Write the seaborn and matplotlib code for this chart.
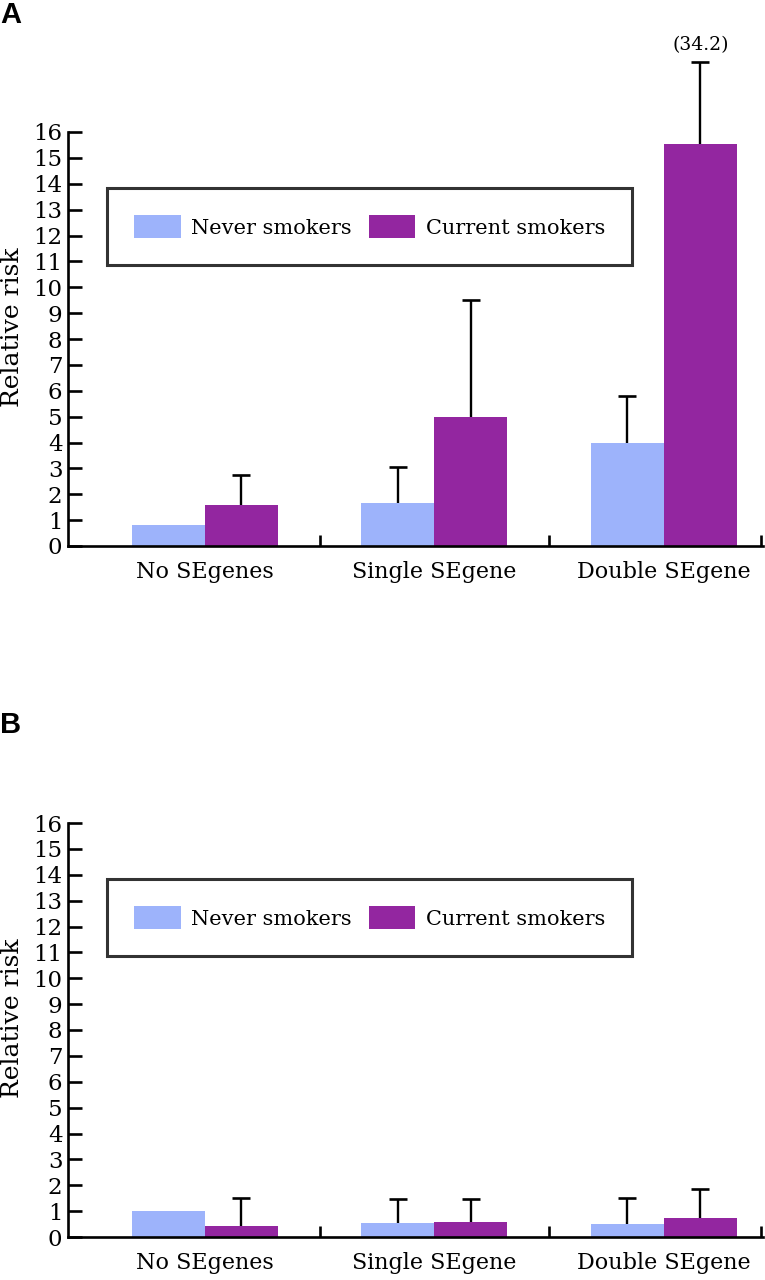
import numpy as np
import pandas as pd
import matplotlib
matplotlib.use("Agg")
import matplotlib.pyplot as plt
import seaborn as sns

groups = ["No SEgenes", "Single SEgene", "Double SEgene"]
smoking = ["Never smokers", "Current smokers"]

# panel A: relative risk and upper confidence limit
a_never = [0.8, 1.65, 4.0]
a_never_up = [np.nan, 3.05, 5.8]
a_current = [1.6, 5.0, 15.55]
a_current_up = [2.75, 9.5, 34.2]

# panel B
b_never = [1.0, 0.55, 0.52]
b_never_up = [np.nan, 1.48, 1.5]
b_current = [0.42, 0.58, 0.72]
b_current_up = [1.52, 1.48, 1.86]

ci_clip = 18.7  # upper limits beyond this are drawn cut and labelled
colors = ["#9db3fb", "#9326a0"]

sns.set_style("white")
plt.rcParams["font.family"] = ["DejaVu Serif"]
plt.rcParams["text.color"] = "black"
plt.rcParams["axes.labelcolor"] = "black"
plt.rcParams["xtick.color"] = "black"
plt.rcParams["ytick.color"] = "black"


def make_df(never, current):
    return pd.DataFrame({
        "group": groups * 2,
        "smoking": [smoking[0]] * 3 + [smoking[1]] * 3,
        "rr": never + current,
    })


def panel(ax, never, never_up, current, current_up, ytop, letter_y, letter):
    df = make_df(never, current)
    sns.barplot(data=df, x="group", y="rr", hue="smoking", order=groups,
                hue_order=smoking, palette=colors, saturation=1, width=0.635,
                errorbar=None, linewidth=0, ax=ax, zorder=2)

    ups = [never_up, current_up]
    vals = [never, current]
    for cont, up, val in zip(ax.containers, ups, vals):
        for bar, u, v in zip(cont, up, val):
            if np.isnan(u):
                continue
            x = bar.get_x() + bar.get_width() / 2
            top = min(u, ci_clip)
            eb = ax.errorbar([x], [v], yerr=[[0], [top - v]], fmt="none",
                             ecolor="black", elinewidth=1.7, capsize=6.5,
                             capthick=1.9, zorder=3, clip_on=False)
            # one-sided bar: hide the lower cap
            eb[1][0].set_visible(False)
            if u > ci_clip:
                ax.text(x, top + 0.3, f"({u})", ha="center", va="bottom",
                        fontsize=13.5, clip_on=False)

    ax.set_xlim(-0.596, 2.432)
    ax.set_ylim(0, ytop)
    ax.set_yticks(range(0, 17))
    ax.set_xlabel("")
    ax.set_ylabel("Relative risk", fontsize=18)
    ax.yaxis.set_label_coords(-0.064, 8.46 / ytop)

    sns.despine(ax=ax)
    ax.spines["left"].set_bounds(0, 16)
    for s in ["left", "bottom"]:
        ax.spines[s].set_linewidth(1.9)
        ax.spines[s].set_color("black")

    ax.tick_params(axis="y", direction="in", length=10, width=1.9,
                   labelsize=16.5, pad=4, left=True)
    ax.tick_params(axis="x", which="major", length=0, labelsize=16, pad=11)
    ax.set_xticks([0.5, 1.5, 2.425], minor=True)
    ax.tick_params(axis="x", which="minor", direction="in", length=8,
                   width=1.9, bottom=True)

    handles, labels = ax.get_legend_handles_labels()
    leg = ax.legend(handles, labels, loc="upper left", ncol=2,
                    bbox_to_anchor=(0.056, 13.84 / ytop), fontsize=15,
                    handlelength=2.25, handleheight=1.35, handletextpad=0.5,
                    columnspacing=0.8, borderpad=1.3, fancybox=False,
                    frameon=True, borderaxespad=0)
    leg.get_frame().set_edgecolor("black")
    leg.get_frame().set_linewidth(2.2)

    ax.figure.text(0.0, letter_y, letter, fontsize=21, fontweight="bold",
                   family="Liberation Sans", va="top", ha="left")


fig = plt.figure(figsize=(7.65, 12.8), dpi=100)
ax_a = fig.add_axes([68 / 765, 1 - 546 / 1280, 695 / 765, 20 * 25.875 / 1280])
ax_b = fig.add_axes([68 / 765, 1 - 1237 / 1280, 695 / 765, 16.5 * 25.875 / 1280])

panel(ax_a, a_never, a_never_up, a_current, a_current_up, 20, 1 - 1 / 1280, "A")
panel(ax_b, b_never, b_never_up, b_current, b_current_up, 16.5, 1 - 711 / 1280, "B")

fig.savefig("out.png", dpi=100)
